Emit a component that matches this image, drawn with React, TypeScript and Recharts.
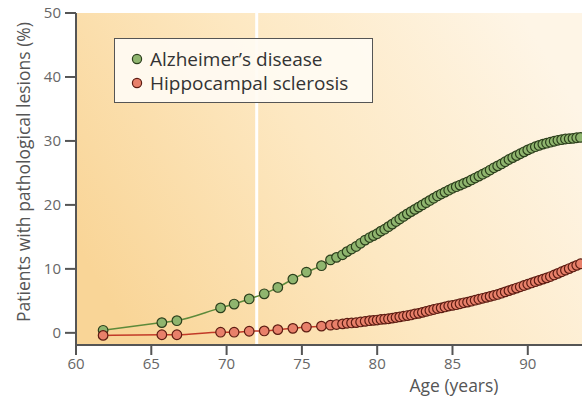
import React from "react";
import {
  LineChart,
  Line,
  XAxis,
  YAxis,
  ReferenceArea,
  ReferenceLine,
  Label,
} from "recharts";

// Age of each patient sample (years), shared by both series
const ages = [
  61.8, 65.7, 66.7, 69.6, 70.5, 71.5, 72.5, 73.4, 74.4, 75.3, 76.3, 76.9,
  77.3, 77.7, 78.0, 78.3, 78.6, 78.9, 79.2, 79.5, 79.75, 80.0, 80.25, 80.5,
  80.75, 81.0, 81.25, 81.5, 81.75, 82.0, 82.25, 82.5, 82.75, 83.0, 83.25,
  83.5, 83.75, 84.0, 84.25, 84.5, 84.75, 85.0, 85.25, 85.5, 85.75, 86.0,
  86.25, 86.5, 86.75, 87.0, 87.25, 87.5, 87.75, 88.0, 88.25, 88.5, 88.75,
  89.0, 89.25, 89.5, 89.75, 90.0, 90.25, 90.5, 90.75, 91.0, 91.25, 91.5,
  91.75, 92.0, 92.25, 92.5, 92.75, 93.0, 93.25, 93.5,
];

// Alzheimer's disease (%)
const alzheimers = [
  0.4, 1.6, 1.9, 3.9, 4.5, 5.3, 6.1, 7.1, 8.4, 9.5, 10.5, 11.4,
  11.8, 12.2, 12.7, 13.1, 13.5, 14.0, 14.5, 14.9, 15.2, 15.5, 15.9, 16.2,
  16.6, 17.0, 17.4, 17.8, 18.2, 18.6, 18.95, 19.3, 19.65, 20.0, 20.35,
  20.7, 21.05, 21.4, 21.7, 22.0, 22.3, 22.6, 22.85, 23.1, 23.35, 23.6,
  23.9, 24.2, 24.5, 24.8, 25.1, 25.45, 25.8, 26.1, 26.4, 26.75, 27.1,
  27.4, 27.7, 28.0, 28.3, 28.6, 28.85, 29.1, 29.3, 29.5, 29.65, 29.8,
  29.95, 30.1, 30.2, 30.3, 30.35, 30.4, 30.5, 30.55,
];

// Hippocampal sclerosis (%)
const hippocampal = [
  -0.4, -0.3, -0.3, 0.1, 0.1, 0.25, 0.3, 0.5, 0.7, 0.9, 1.05, 1.2,
  1.3, 1.4, 1.5, 1.55, 1.6, 1.7, 1.8, 1.9, 1.95, 2.0, 2.1, 2.15,
  2.2, 2.3, 2.4, 2.5, 2.6, 2.7, 2.8, 2.95, 3.05, 3.2, 3.35,
  3.5, 3.65, 3.8, 3.9, 4.05, 4.2, 4.3, 4.4, 4.55, 4.7, 4.8,
  4.95, 5.1, 5.25, 5.4, 5.55, 5.7, 5.85, 6.0, 6.2, 6.4, 6.6,
  6.8, 7.0, 7.2, 7.4, 7.6, 7.8, 8.0, 8.2, 8.4, 8.6, 8.8,
  9.05, 9.3, 9.55, 9.8, 10.05, 10.3, 10.55, 10.8,
];

const xTicks = [60, 65, 70, 75, 80, 85, 90];
const yTicks = [0, 10, 20, 30, 40, 50];

const X_MIN = 60;
const X_MAX = 93.6;
const Y_MIN = -1.9;
const Y_MAX = 50;

const GREEN = "#8fb56e";
const GREEN_EDGE = "#2c3f1c";
const RED = "#e8806a";
const RED_EDGE = "#5c1c12";

const FONT = "'Open Sans', Lato, sans-serif";

function LegendBox() {
  const items = [
    { label: "Alzheimer’s disease", fill: GREEN, edge: GREEN_EDGE },
    { label: "Hippocampal sclerosis", fill: RED, edge: RED_EDGE },
  ];
  return (
    <div
      style={{
        position: "absolute",
        left: 114,
        top: 38,
        width: 259,
        height: 65,
        background: "rgba(255,251,243,0.92)",
        border: "1.5px solid #555",
        boxSizing: "border-box",
        padding: "8px 0 0 15px",
        fontFamily: FONT,
        fontSize: 19,
        color: "#333",
      }}
    >
      {items.map((it) => (
        <div
          key={it.label}
          style={{ display: "flex", alignItems: "center", height: 24 }}
        >
          <svg width={15} height={14} style={{ marginRight: 5 }}>
            <circle cx={7} cy={7} r={4.6} fill={it.fill} stroke={it.edge} strokeWidth={1.2} />
          </svg>
          <span>{it.label}</span>
        </div>
      ))}
    </div>
  );
}

export default function App() {
  const data = ages.map((age, i) => ({
    age,
    alz: alzheimers[i],
    hs: hippocampal[i],
  }));

  return (
    <div style={{ position: "absolute", left: 0, top: 0, width: 582, height: 399, background: "#fff" }}>
      <LineChart
        width={582}
        height={399}
        data={data}
        margin={{ top: 13, right: 0, bottom: 0, left: 0 }}
      >
        <defs>
          <linearGradient id="bgGrad" x1="0" y1="0.7" x2="1" y2="0.3">
            <stop offset="0%" stopColor="#f9d597" />
            <stop offset="50%" stopColor="#fde8c2" />
            <stop offset="100%" stopColor="#fef5e6" />
          </linearGradient>
        </defs>
        <XAxis
          dataKey="age"
          type="number"
          domain={[X_MIN, X_MAX]}
          ticks={xTicks}
          allowDataOverflow
          height={54}
          tickSize={10}
          tickMargin={3}
          stroke="#555"
          strokeWidth={2}
          tick={{ fill: "#666", fontSize: 15, fontFamily: FONT }}
        >
          <Label
            content={({ viewBox }: any) => (
              <text
                x={454}
                y={viewBox.y + 47}
                textAnchor="middle"
                fill="#555"
                fontSize={17.5}
                fontFamily={FONT}
              >
                Age (years)
              </text>
            )}
          />
        </XAxis>
        <YAxis
          type="number"
          domain={[Y_MIN, Y_MAX]}
          ticks={yTicks}
          allowDataOverflow
          width={76}
          tickSize={11}
          tickMargin={4}
          stroke="#555"
          strokeWidth={2}
          tick={{ fill: "#666", fontSize: 15, fontFamily: FONT }}
        >
          <Label
            content={({ viewBox }: any) => {
              const cx = viewBox.x + 23;
              const cy = viewBox.y + viewBox.height / 2 - 7;
              return (
                <text
                  x={cx}
                  y={cy}
                  transform={`rotate(-90 ${cx} ${cy})`}
                  textAnchor="middle"
                  dominantBaseline="central"
                  fill="#555"
                  fontSize={17.5}
                  fontFamily={FONT}
                >
                  Patients with pathological lesions (%)
                </text>
              );
            }}
          />
        </YAxis>
        <ReferenceArea
          x1={X_MIN}
          x2={X_MAX}
          y1={Y_MIN}
          y2={Y_MAX}
          fill="url(#bgGrad)"
          fillOpacity={1}
          stroke="none"
          ifOverflow="visible"
        />
        <ReferenceLine x={72} stroke="#ffffff" strokeWidth={3} />
        <Line
          dataKey="alz"
          name="Alzheimer’s disease"
          type="monotone"
          stroke="#5d8a3a"
          strokeWidth={1.5}
          dot={{ r: 4.8, fill: GREEN, stroke: GREEN_EDGE, strokeWidth: 1.2 }}
          isAnimationActive={false}
        />
        <Line
          dataKey="hs"
          name="Hippocampal sclerosis"
          type="monotone"
          stroke="#c23a28"
          strokeWidth={1.5}
          dot={{ r: 4.8, fill: RED, stroke: RED_EDGE, strokeWidth: 1.2 }}
          isAnimationActive={false}
        />
      </LineChart>
      <LegendBox />
    </div>
  );
}
